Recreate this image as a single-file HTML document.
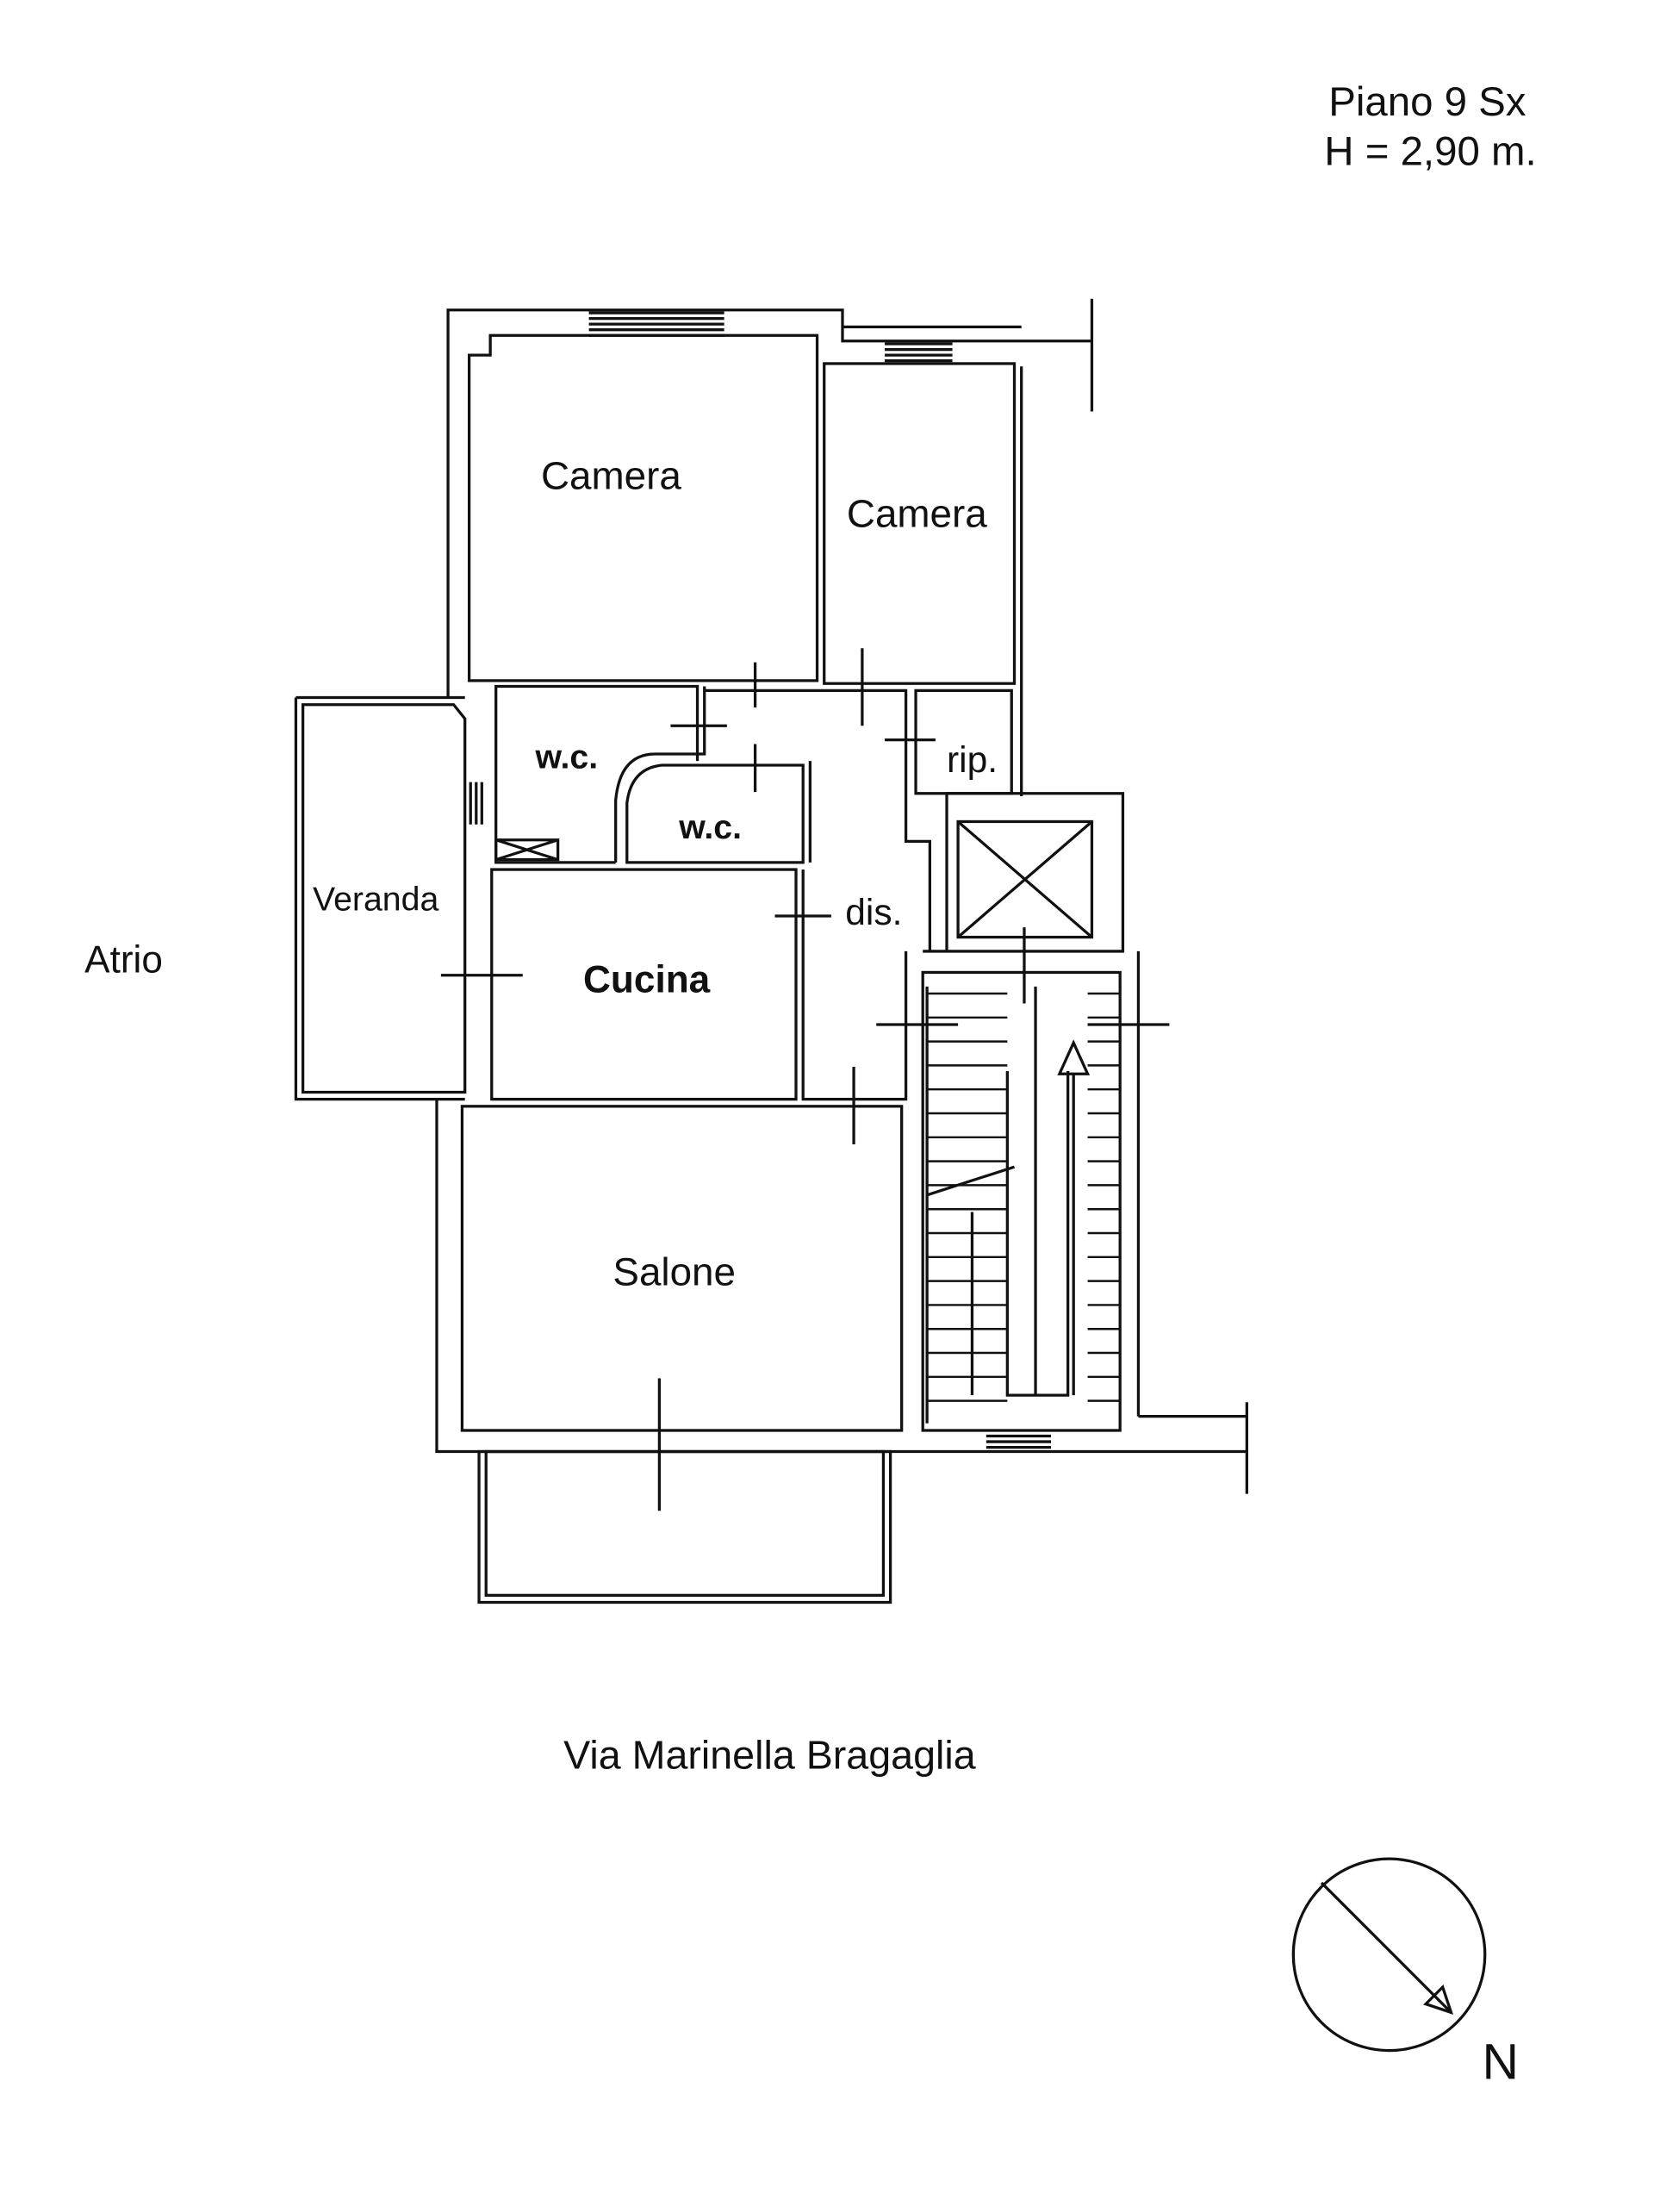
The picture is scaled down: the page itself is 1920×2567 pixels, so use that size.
<!DOCTYPE html>
<html><head><meta charset="utf-8"><style>
html,body{margin:0;padding:0;background:#fff;}
svg{display:block;}
text{font-family:"Liberation Sans",sans-serif;fill:#111;}
</style></head><body>
<svg width="1920" height="2567" viewBox="0 0 1174 1569.6" preserveAspectRatio="none" xmlns="http://www.w3.org/2000/svg">
<rect width="1174" height="1570" fill="#fff"/>
<g fill="none" stroke="#111" stroke-width="2">
<path d="M318 495 V220 H598 V242 H775"/>
<path d="M775 212 V292"/>
<path d="M598 232 H725"/>
<path d="M725 260 V565"/>
<path d="M210 495 H330 M210 495 V780 H330"/>
<path d="M310 780 V1030 H885 M885 995 V1060"/>
<path d="M808 1005 H885 M808 675 V1005"/>
<path d="M655 675 H797 V563 H672 V675"/>
<path d="M333 252 L348 252 L348 238 H580 V483 H333 Z"/>
<rect x="585" y="258" width="135" height="227"/>
<path d="M495 540 V487 H352 V612 H437"/>
<path d="M445 612 V570 Q448 545 470 543 H570 V612 Z"/>
<path d="M437 612 V568 Q440 535 465 535 H500 V487"/>
<path d="M575 540 V612"/>
<rect x="650" y="490" width="68" height="73"/>
<path d="M500 490 H643 V597 H660 V675 M643 675 V780 H570 V617"/>
<rect x="349" y="617" width="216" height="163"/>
<path d="M215 500 H322 L330 510 V775 H215 Z"/>
<rect x="328" y="785" width="312" height="230"/>
<rect x="340" y="1030" width="292" height="107"/>
<rect x="345" y="1030" width="282" height="102"/>
<rect x="655" y="690" width="140" height="325"/>
<rect x="680" y="583" width="95" height="82"/>
<path d="M680 583 L775 665 M775 583 L680 665"/>
<rect x="352" y="596" width="44" height="14"/>
<path d="M352 596 L396 610 M396 596 L352 610"/>
<path d="M418 222 H514 M418 226 H514 M418 230 H514 M418 234 H514 M418 238 H514"/>
<path d="M628 244 H676 M628 248 H676 M628 252 H676 M628 256 H676"/>
<path d="M700 1019 H746 M700 1023 H746 M700 1027 H746"/>
<path d="M334 555 V585 M338 555 V585 M342 555 V585"/>
<path d="M536 470 V502 M612 460 V515 M476 515 H516 M536 528 V562 M628 525 H664 M550 650 H590 M313 692 H371 M606 757 V812 M622 727 H680 M727 658 V712 M772 727 H830 M468 978 V1072"/>
<path d="M658 700 V1010 M715 760 V990 H758 V760 M735 700 V990"/>
<g stroke-width="1.5">
<path d="M658 705 H715 M658 722 H715 M658 739 H715 M658 756 H715 M658 773 H715 M658 790 H715 M658 807 H715 M658 824 H715 M658 841 H715 M658 858 H715 M658 875 H715 M658 892 H715 M658 909 H715 M658 926 H715 M658 943 H715 M658 960 H715 M658 977 H715 M658 994 H715"/>
<path d="M772 705 H795 M772 722 H795 M772 739 H795 M772 756 H795 M772 773 H795 M772 790 H795 M772 807 H795 M772 824 H795 M772 841 H795 M772 858 H795 M772 875 H795 M772 892 H795 M772 909 H795 M772 926 H795 M772 943 H795 M772 960 H795 M772 977 H795 M772 994 H795"/>
</g>
<path d="M658 848 L720 828"/>
<path d="M762 762 V990 M762 740 L752 762 H772 Z"/>
<path d="M690 860 V990"/>
<circle cx="986" cy="1387" r="68"/>
<path d="M938 1336 L1030 1428"/>
<path d="M1030 1428 L1012 1422 L1024 1410 Z"/>
</g>
<text x="943" y="82" font-size="29">Piano 9 Sx</text>
<text x="940" y="117" font-size="29">H = 2,90 m.</text>
<text x="60" y="690" font-size="27">Atrio</text>
<text x="400" y="1255" font-size="28.5">Via Marinella Bragaglia</text>
<text x="1052" y="1475" font-size="36">N</text>
<text x="384" y="347" font-size="28">Camera</text>
<text x="601" y="374" font-size="28">Camera</text>
<text x="380" y="545" font-size="24" font-weight="bold">w.c.</text>
<text x="482" y="595" font-size="24" font-weight="bold">w.c.</text>
<text x="672" y="548" font-size="26">rip.</text>
<text x="600" y="656" font-size="26">dis.</text>
<text x="222" y="646" font-size="24">Veranda</text>
<text x="414" y="704" font-size="27" font-weight="bold">Cucina</text>
<text x="435" y="912" font-size="28">Salone</text>
</svg>
</body></html>
